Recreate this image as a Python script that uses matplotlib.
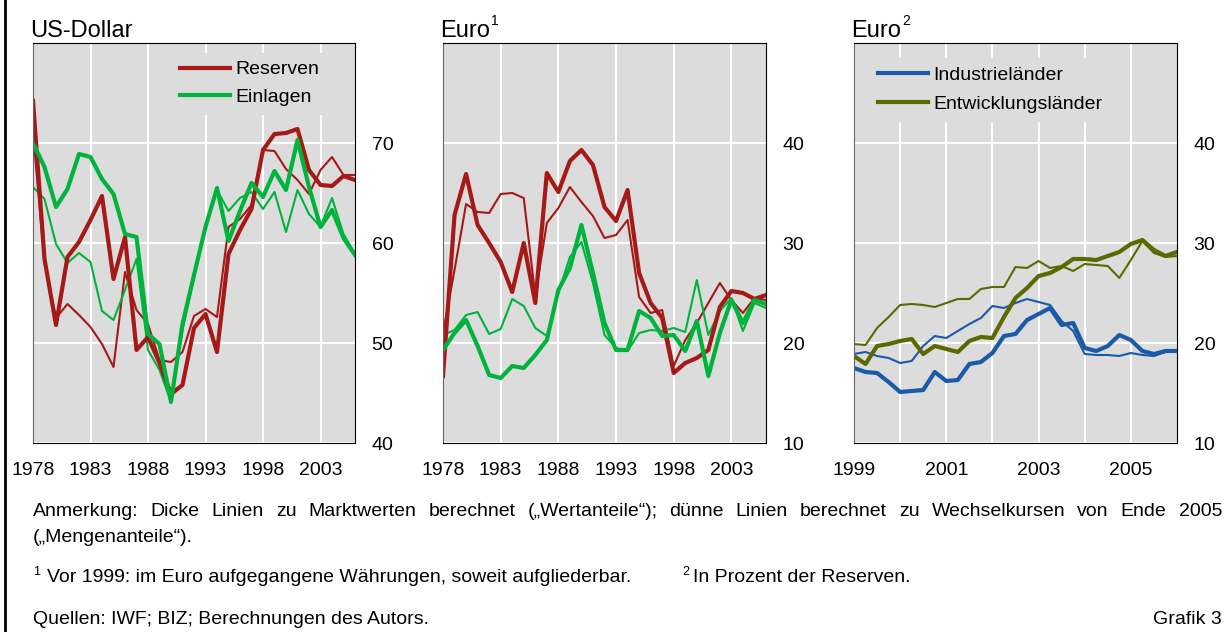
import matplotlib.pyplot as plt
from matplotlib.lines import Line2D

plt.rcParams['font.family'] = ['Liberation Sans', 'DejaVu Sans']

# jährliche Daten 1978-2006
years = list(range(1978, 2007))

# US-Dollar, Anteile in %
usd_res_thick = [74.2, 58.4, 51.8, 58.6, 60.1, 62.3, 64.7, 56.4, 60.6, 49.3, 50.6, 48.0, 44.9, 45.8, 51.5,
                 52.9, 49.1, 58.9, 61.3, 63.4, 69.3, 70.9, 71.0, 71.4, 67.3, 65.8, 65.7, 66.7, 66.3]
usd_res_thin = [71.1, 58.0, 52.5, 53.9, 52.8, 51.6, 49.9, 47.6, 57.1, 53.3, 51.9, 48.3, 48.1, 49.1, 52.7,
                53.4, 52.6, 61.6, 62.4, 63.8, 69.3, 69.2, 67.4, 66.3, 64.9, 67.3, 68.6, 66.8, 66.8]
usd_dep_thick = [70.0, 67.6, 63.6, 65.4, 68.9, 68.6, 66.4, 64.9, 60.9, 60.6, 50.9, 49.9, 44.1, 51.9, 56.8,
                 61.6, 65.5, 60.2, 63.2, 66.0, 64.6, 67.2, 65.3, 70.3, 65.6, 61.6, 63.3, 60.5, 58.8]
usd_dep_thin = [65.6, 64.4, 59.9, 58.0, 59.0, 58.1, 53.2, 52.3, 55.3, 58.4, 49.3, 47.3, 44.1, 51.3, 56.5,
                61.8, 65.3, 63.2, 64.5, 65.1, 63.4, 65.1, 61.1, 65.3, 62.9, 61.6, 64.5, 60.9, 58.9]

# Euro (vor 1999: Vorgängerwährungen)
eur_res_thick = [16.7, 32.8, 36.9, 31.8, 30.0, 28.1, 25.1, 30.0, 24.0, 37.0, 35.1, 38.2, 39.3, 37.8, 33.6,
                 32.2, 35.3, 27.0, 24.0, 22.5, 17.0, 18.0, 18.5, 19.3, 23.6, 25.2, 25.0, 24.4, 24.8]
eur_res_thin = [21.0, 27.3, 33.9, 33.1, 33.0, 34.9, 35.0, 34.5, 24.7, 32.0, 33.5, 35.6, 34.1, 32.7, 30.5,
                30.8, 32.3, 24.6, 23.0, 23.3, 17.7, 20.3, 22.0, 24.0, 26.0, 24.3, 23.0, 24.5, 24.3]
eur_dep_thick = [19.3, 21.0, 22.3, 19.7, 16.8, 16.5, 17.7, 17.5, 18.8, 20.3, 25.3, 27.5, 31.8, 27.0, 22.0,
                 19.3, 19.3, 23.2, 22.5, 20.7, 20.8, 19.2, 22.2, 16.7, 21.0, 24.3, 22.0, 24.3, 23.9]
eur_dep_thin = [20.8, 21.3, 22.8, 23.1, 20.9, 21.4, 24.4, 23.7, 21.5, 20.7, 25.0, 28.6, 30.1, 26.0, 20.8,
                19.5, 19.2, 21.0, 21.3, 21.2, 21.5, 21.1, 26.3, 20.8, 23.2, 24.5, 21.2, 24.0, 23.5]

# Euro in Prozent der Reserven, Quartale 1999 Q1 - 2006 Q1
quarters = [1999 + q / 4 for q in range(29)]
ind_thick = [17.5, 17.1, 17.0, 16.1, 15.1, 15.2, 15.3, 17.1, 16.2, 16.3, 17.9, 18.1, 19.0, 20.7, 20.9,
             22.3, 22.9, 23.5, 21.8, 22.0, 19.5, 19.2, 19.7, 20.8, 20.3, 19.2, 18.9, 19.2, 19.2]
ind_thin = [18.9, 19.1, 18.7, 18.5, 18.0, 18.2, 19.7, 20.7, 20.5, 21.2, 21.9, 22.5, 23.7, 23.5, 24.0,
            24.4, 24.1, 23.8, 22.2, 21.2, 18.9, 18.8, 18.8, 18.7, 19.0, 18.8, 18.7, 19.1, 19.3]
dev_thick = [18.7, 17.9, 19.7, 19.9, 20.2, 20.4, 18.9, 19.7, 19.4, 19.1, 20.2, 20.6, 20.5, 22.6, 24.5,
             25.5, 26.7, 27.0, 27.6, 28.4, 28.4, 28.3, 28.7, 29.1, 29.9, 30.3, 29.3, 28.7, 29.1]
dev_thin = [19.9, 19.8, 21.5, 22.6, 23.8, 23.9, 23.8, 23.6, 24.0, 24.4, 24.4, 25.4, 25.6, 25.6, 27.6,
            27.5, 28.2, 27.5, 27.7, 27.2, 27.9, 27.8, 27.7, 26.5, 28.3, 30.2, 29.0, 28.6, 28.7]

RED = '#a51916'
GREEN = '#00b33c'
BLUE = '#1a5aa8'
OLIVE = '#5a6a00'
BG = '#dcdcdc'
THICK = 3.0
THIN = 1.5

fig = plt.figure(figsize=(12.24, 6.32), dpi=100)
W, H = 1224, 632


def make_ax(x0, x1, y0, y1):
    ax = fig.add_axes([x0 / W, 1 - y1 / H, (x1 - x0) / W, (y1 - y0) / H])
    ax.set_facecolor(BG)
    for s in ax.spines.values():
        s.set_color('black')
        s.set_linewidth(0.8)
    ax.spines['left'].set_color('#666666')
    ax.yaxis.tick_right()
    ax.tick_params(axis='both', length=0, labelsize=14)
    ax.tick_params(axis='y', pad=12)
    ax.tick_params(axis='x', pad=14)
    ax.grid(True, color='white', linewidth=1.5, which='both')
    ax.set_axisbelow(True)
    return ax


def title(ax, txt, sup=None):
    t = ax.text(-0.01, 1.015, txt, transform=ax.transAxes, fontsize=17, ha='left', va='baseline')
    if sup:
        fig.canvas.draw()
        bb = t.get_window_extent()
        fig.text(bb.x1 / W + 0.001, bb.y1 / H - 0.012, sup, fontsize=10, ha='left', va='bottom')


leg_kw = dict(frameon=True, facecolor=BG, edgecolor=BG, framealpha=1, fontsize=14,
              handlelength=2.6, handletextpad=0.25, labelspacing=0.5, borderpad=0.4,
              borderaxespad=0, loc='upper left')

# Panel 1: US-Dollar
ax1 = make_ax(33, 355, 43, 443)
ax1.plot(years, usd_res_thin, color=RED, lw=THIN)
ax1.plot(years, usd_dep_thin, color=GREEN, lw=THIN)
ax1.plot(years, usd_res_thick, color=RED, lw=THICK, label='Reserven')
ax1.plot(years, usd_dep_thick, color=GREEN, lw=THICK, label='Einlagen')
ax1.set_xlim(1978, 2006)
ax1.set_ylim(40, 80)
ax1.set_yticks([40, 50, 60, 70])
ax1.set_xticks([1978, 1983, 1988, 1993, 1998, 2003])
title(ax1, 'US-Dollar')
ax1.legend(bbox_to_anchor=(0.432, 0.975), **leg_kw)

# Panel 2: Euro1
ax2 = make_ax(443, 766, 43, 443)
ax2.plot(years, eur_res_thin, color=RED, lw=THIN)
ax2.plot(years, eur_dep_thin, color=GREEN, lw=THIN)
ax2.plot(years, eur_res_thick, color=RED, lw=THICK)
ax2.plot(years, eur_dep_thick, color=GREEN, lw=THICK)
ax2.set_xlim(1978, 2006)
ax2.set_ylim(10, 50)
ax2.set_yticks([10, 20, 30, 40])
ax2.set_xticks([1978, 1983, 1988, 1993, 1998, 2003])
title(ax2, 'Euro', '1')

# Panel 3: Euro2
ax3 = make_ax(854, 1177, 43, 443)
ax3.plot(quarters, ind_thin, color=BLUE, lw=THIN)
ax3.plot(quarters, dev_thin, color=OLIVE, lw=THIN)
ax3.plot(quarters, ind_thick, color=BLUE, lw=THICK, label='Industrieländer')
ax3.plot(quarters, dev_thick, color=OLIVE, lw=THICK, label='Entwicklungsländer')
ax3.set_xlim(1999, 2006)
ax3.set_ylim(10, 50)
ax3.set_yticks([10, 20, 30, 40])
ax3.set_xticks([1999, 2001, 2003, 2005])
ax3.set_xticks([2000, 2002, 2004], minor=True)
ax3.tick_params(which='minor', length=0)
title(ax3, 'Euro', '2')
ax3.legend(bbox_to_anchor=(0.05, 0.962), **dict(leg_kw, labelspacing=0.6))

# linker Rahmenstrich
fig.add_artist(Line2D([5 / W, 5 / W], [0, 1], color='black', lw=2, transform=fig.transFigure))

# Fußnoten
FS = 14
renderer = fig.canvas.get_renderer()
line1 = ('Anmerkung: Dicke Linien zu Marktwerten berechnet („Wertanteile“); '
         'dünne Linien berechnet zu Wechselkursen von Ende 2005').split(' ')
words = []
for w in line1:
    words.append(fig.text(0, 1 - 511 / H, w, fontsize=FS, va='center', ha='left'))
widths = [t.get_window_extent(renderer).width for t in words]
gap = (1222 - 33 - sum(widths)) / (len(words) - 1)
x = 33
for t, wd in zip(words, widths):
    t.set_x(x / W)
    x += wd + gap

fig.text(33 / W, 1 - 537 / H, '(„Mengenanteile“).', fontsize=FS, va='center', ha='left')
fig.text(33 / W, 1 - 572 / H, '1', fontsize=9, va='center', ha='left')
fig.text(47 / W, 1 - 578 / H, 'Vor 1999: im Euro aufgegangene Währungen, soweit aufgliederbar.',
         fontsize=FS, va='center', ha='left')
fig.text(682 / W, 1 - 572 / H, '2', fontsize=9, va='center', ha='left')
fig.text(693 / W, 1 - 578 / H, 'In Prozent der Reserven.', fontsize=FS, va='center', ha='left')
fig.text(33 / W, 1 - 620 / H, 'Quellen: IWF; BIZ; Berechnungen des Autors.', fontsize=FS,
         va='center', ha='left')
fig.text(1222 / W, 1 - 620 / H, 'Grafik 3', fontsize=FS, va='center', ha='right')

fig.savefig('out.png', dpi=100)
